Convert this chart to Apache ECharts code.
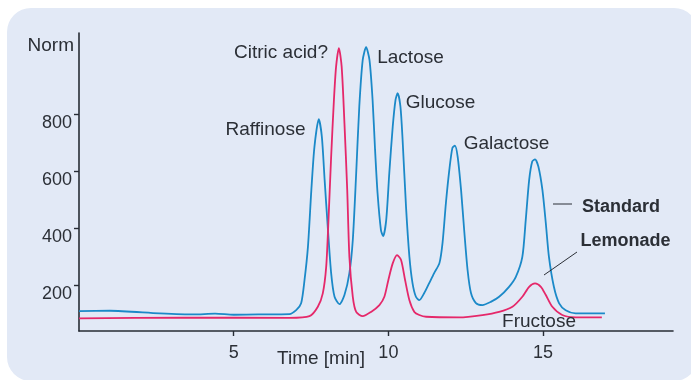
<!DOCTYPE html>
<html>
<head>
<meta charset="utf-8">
<script src="https://cdn.jsdelivr.net/npm/echarts@6/dist/echarts.min.js"></script>
<style>
  html, body { margin: 0; padding: 0; background: #ffffff; }
  #chart { width: 691px; height: 380px; }
</style>
</head>
<body>
<div id="chart"></div>
<script>
// Chromatogram of a sugar standard and a lemonade sample (detector signal vs. retention time)
const standardTime = [0, 1.0, 2.6, 3.7, 4.4, 5.0, 5.8, 6.8, 7.02, 7.18, 7.29, 7.40, 7.51, 7.61, 7.75, 7.85, 7.94, 8.04, 8.15, 8.26, 8.42, 8.58, 8.74, 8.85, 8.96, 9.06, 9.17, 9.28, 9.39, 9.49, 9.57, 9.65, 9.76, 9.83, 9.93, 10.03, 10.14, 10.23, 10.30, 10.39, 10.46, 10.57, 10.68, 10.78, 10.89, 11.0, 11.16, 11.32, 11.48, 11.65, 11.75, 11.86, 11.97, 12.07, 12.15, 12.24, 12.35, 12.45, 12.56, 12.67, 12.83, 13.04, 13.31, 13.58, 13.90, 14.12, 14.33, 14.44, 14.55, 14.65, 14.74, 14.85, 14.98, 15.09, 15.19, 15.35, 15.52, 15.73, 16.05, 17.0];
const standardSignal = [109, 110, 101, 97, 100, 96, 97, 98, 112, 136, 218, 334, 533, 685, 782, 720, 568, 405, 242, 159, 133, 165, 242, 358, 593, 826, 989, 1034, 989, 849, 674, 523, 393, 372, 428, 593, 755, 849, 873, 826, 709, 475, 299, 207, 159, 147, 172, 207, 242, 277, 347, 488, 604, 681, 689, 650, 533, 393, 253, 172, 137, 130, 141, 159, 194, 229, 299, 428, 568, 633, 641, 615, 533, 416, 299, 194, 136, 112, 101, 101];

const lemonadeTime = [0, 3.35, 6.8, 7.45, 7.72, 7.88, 7.99, 8.06, 8.15, 8.24, 8.31, 8.40, 8.49, 8.58, 8.67, 8.74, 8.85, 8.96, 9.17, 9.44, 9.71, 9.87, 10.0, 10.14, 10.28, 10.41, 10.54, 10.68, 10.84, 11.0, 11.22, 12.29, 13.04, 13.58, 14.01, 14.33, 14.55, 14.74, 14.93, 15.09, 15.30, 15.62, 16.05, 16.9];
const lemonadeSignal = [83, 86, 85, 91, 124, 171, 264, 418, 650, 849, 966, 1031, 966, 768, 533, 299, 159, 106, 91, 106, 130, 159, 218, 276, 305, 288, 218, 147, 106, 95, 89, 87, 95, 106, 124, 159, 194, 206, 194, 165, 124, 95, 87, 87];

const yTicks = [200, 400, 600, 800];
const xTicks = [5, 10, 15];

// Peak annotations: [text, x, y, bold]
const peakLabels = [
  ['Citric acid?', 281, 52.5, false],
  ['Lactose', 410.5, 58, false],
  ['Glucose', 440.5, 102.5, false],
  ['Raffinose', 265.5, 130, false],
  ['Galactose', 506.5, 144, false],
  ['Fructose', 539, 321.5, false],
  ['Standard', 621, 207, true],
  ['Lemonade', 625.5, 241, true]
];

const textColor = '#2b2f36';
const fontFamily = '"Liberation Sans", Arial, sans-serif';

const pairs = (xs, ys) => xs.map((x, i) => [x, ys[i]]);

const graphics = [
  {
    type: 'rect', z: -10, silent: true,
    shape: { x: 7, y: 8, width: 691, height: 373, r: 24 },
    style: { fill: '#e2e9f6' }
  },
  {
    type: 'text', z: 10,
    style: { text: 'Norm', x: 74, y: 46, align: 'right', verticalAlign: 'middle',
             fill: textColor, font: '19px ' + fontFamily }
  },
  {
    type: 'text', z: 10,
    style: { text: 'Time [min]', x: 321, y: 359, align: 'center', verticalAlign: 'middle',
             fill: textColor, font: '19px ' + fontFamily }
  },
  {
    type: 'line', z: 10,
    shape: { x1: 553, y1: 204, x2: 572, y2: 204 },
    style: { stroke: '#2b2f36', lineWidth: 1 }
  },
  {
    type: 'line', z: 10,
    shape: { x1: 577, y1: 252, x2: 544, y2: 275 },
    style: { stroke: '#2b2f36', lineWidth: 1 }
  }
].concat(peakLabels.map(([t, x, y, bold]) => ({
  type: 'text', z: 10,
  style: { text: t, x: x, y: y, align: 'center', verticalAlign: 'middle',
           fill: textColor, font: (bold ? 'bold 18px ' : '19px ') + fontFamily }
})));

const chart = echarts.init(document.getElementById('chart'), null, { renderer: 'canvas' });
chart.setOption({
  backgroundColor: '#ffffff',
  animation: false,
  grid: { left: 79, top: 33, right: 18, bottom: 49, containLabel: false },
  xAxis: {
    type: 'value', min: 0, max: 19.2, interval: 5,
    axisLine: { show: true, onZero: false, lineStyle: { color: '#272c35', width: 1.6 } },
    axisTick: { show: true, length: 5, customValues: xTicks, lineStyle: { color: '#272c35', width: 1.4 } },
    axisLabel: { customValues: xTicks, margin: 13, color: textColor, fontSize: 18, fontFamily: fontFamily },
    splitLine: { show: false }
  },
  yAxis: {
    type: 'value', min: 39, max: 1084,
    axisLine: { show: true, lineStyle: { color: '#272c35', width: 1.6 } },
    axisTick: { show: true, length: 5, customValues: yTicks, lineStyle: { color: '#272c35', width: 1.4 } },
    axisLabel: { customValues: yTicks, margin: 7, color: textColor, fontSize: 18, fontFamily: fontFamily,
                 verticalAlign: 'top', lineHeight: 18 },
    splitLine: { show: false }
  },
  series: [
    {
      name: 'Standard', type: 'line', data: pairs(standardTime, standardSignal),
      showSymbol: false, smooth: 0.25, z: 3,
      lineStyle: { color: '#1b89c8', width: 1.8 }
    },
    {
      name: 'Lemonade', type: 'line', data: pairs(lemonadeTime, lemonadeSignal),
      showSymbol: false, smooth: 0.25, z: 4,
      lineStyle: { color: '#e5286a', width: 1.8 }
    }
  ],
  graphic: graphics
});
</script>
</body>
</html>
